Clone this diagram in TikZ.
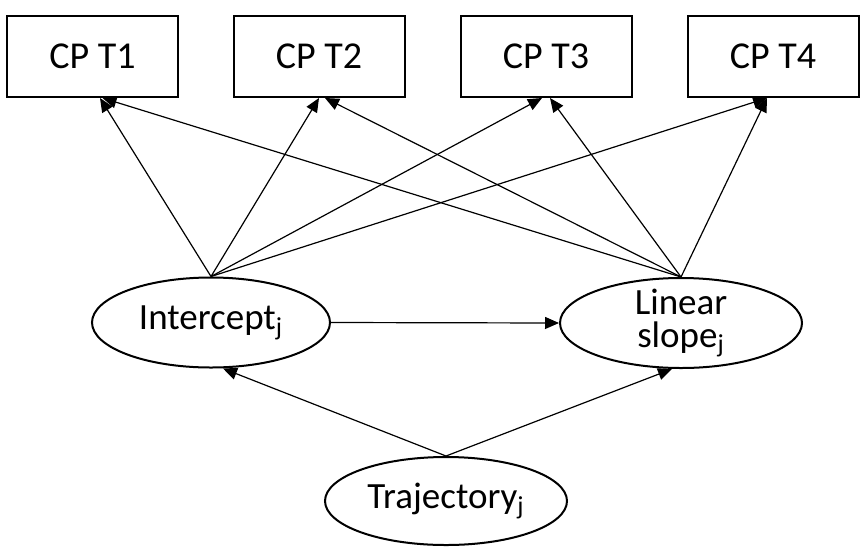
\documentclass[tikz,border=0pt]{standalone}
\usepackage{fontspec}
\setmainfont{Carlito}
\usepackage{tikz}
\usetikzlibrary{arrows.meta, shapes.geometric}

\begin{document}
\begin{tikzpicture}[
  x=0.5pt, y=-0.5pt,
  cpbox/.style={rectangle, draw=black, line width=1pt, fill=white,
                minimum width=85.5pt, minimum height=40.5pt, inner sep=0pt,
                font=\fontsize{19}{20}\selectfont},
  latent/.style={ellipse, draw=black, line width=1pt, fill=white,
                 minimum width=120pt, minimum height=45pt, inner sep=0pt,
                 align=center, font=\fontsize{18.5}{16.5}\selectfont},
  e/.style={-{Triangle[length=7pt, width=6pt]}, draw=black, line width=0.6pt}
]
\useasboundingbox (0,0) rectangle (860,546);

% ---------------------------------------------- top: observed time points
\node[cpbox] (t1) at (92.5, 56.5) {CP T1};
\node[cpbox] (t2) at (319,  56.5) {CP T2};
\node[cpbox] (t3) at (546,  56.5) {CP T3};
\node[cpbox] (t4) at (773,  56.5) {CP T4};

% ---------------------------------------------- middle: growth factors
\node[latent, minimum width=119pt] (icpt) at (211, 322.5) {Intercept\textsubscript{j}};
\node[latent, minimum width=121pt, inner sep=-1.5pt] (slope) at (681, 323) {Linear\\ slope\textsubscript{j}};

% ---------------------------------------------- bottom: class
\node[latent, minimum width=121pt, minimum height=44pt] (traj) at (446, 501) {Trajectory\textsubscript{j}};

% ---------------------------------------------- loadings
\draw[e] (icpt.north) -- ([xshift=3.75pt]t1.south);
\draw[e] (icpt.north) -- (t2.south);
\draw[e] (icpt.north) -- ([xshift=-2pt]t3.south);
\draw[e] (icpt.north) -- ([xshift=-3pt]t4.south);

\draw[e] (slope.north) -- ([xshift=5pt]t1.south);
\draw[e] (slope.north) -- ([xshift=3pt]t2.south);
\draw[e] (slope.north) -- ([xshift=2pt]t3.south);
\draw[e] (slope.north) -- ([xshift=-3pt]t4.south);

\draw[e] (icpt.east) -- (slope.west);

\draw[e] (traj.north) -- ([xshift=6pt]icpt.south);
\draw[e] (traj.north) -- ([xshift=-4.5pt]slope.south);

\end{tikzpicture}
\end{document}
